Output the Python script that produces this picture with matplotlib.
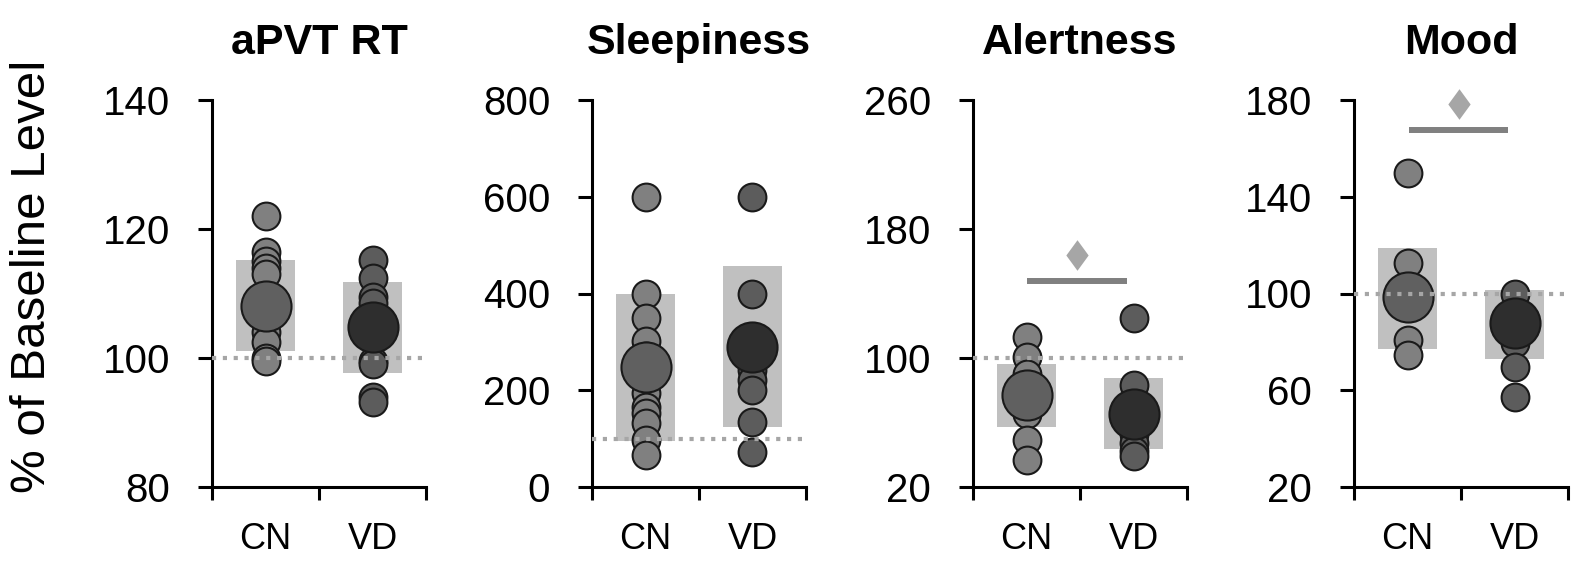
import numpy as np
import matplotlib
matplotlib.use('Agg')
import matplotlib.pyplot as plt

plt.rcParams['font.family'] = ['Liberation Sans', 'DejaVu Sans']

# ------------------------------------------------------
#  Data (% of baseline level)
# ------------------------------------------------------
titles = ['aPVT RT', 'Sleepiness', 'Alertness', 'Mood']
groups = ['CN', 'VD']

ylims = [(80, 140), (0, 800), (20, 260), (20, 180)]
yticks = [[80, 100, 120, 140], [0, 200, 400, 600, 800],
          [20, 100, 180, 260], [20, 60, 100, 140, 180]]
baseline = [100, 100, 100, 100]

# individual subjects
cn_points = [[122, 116.5, 115, 114, 113, 104, 102.5, 100, 99.5],
             [600, 400, 350, 302, 270, 195, 166, 152, 132, 97, 66],
             [113, 100.6, 90, 65.5, 49, 36.5],
             [150, 112.5, 80.6, 74.4]]
vd_points = [[115.2, 112.4, 109.5, 108.5, 99.5, 99, 94, 93.2],
             [600, 400, 241, 221, 200, 134, 72],
             [125, 83, 53, 47, 42.5, 39.5],
             [100, 79.4, 69.5, 57.2]]

# group means and shaded range (low, high)
cn_mean = [108, 248, 77, 98.5]
vd_mean = [104.8, 289, 65.5, 87.6]
cn_range = [(101.1, 115.2), (95, 398), (57, 96), (77, 119)]
vd_range = [(97.7, 111.8), (124, 456), (43.5, 87.5), (73, 101.6)]

# significance bar (x0, x1, y) and diamond (x, y), None if no mark
sig_bar = [None, None, (0.5, 1.44, 147.5), (0.51, 1.44, 167.6)]
sig_mark = [None, None, (0.97, 164), (0.98, 178.3)]

# ------------------------------------------------------
#  Plot
# ------------------------------------------------------
fig = plt.figure(figsize=(15.83, 5.61), dpi=100)

W, H = 1583.0, 561.0
lefts = [212, 592, 973, 1354]
ax_w = 214
ax_top, ax_bot = 100, 487

cn_small, cn_big = '#808080', '#606060'
vd_small, vd_big = '#5c5c5c', '#2e2e2e'
box_col = '#c0c0c0'
diamond = [(0, 1), (0.73, 0), (0, -1), (-0.73, 0), (0, 1)]

for i in range(4):
    ax = fig.add_axes([lefts[i] / W, 1 - ax_bot / H, ax_w / W, (ax_bot - ax_top) / H])
    xs = [0.5, 1.5]

    # shaded ranges
    for x, (lo, hi) in zip(xs, [cn_range[i], vd_range[i]]):
        ax.bar(x, hi - lo, bottom=lo, width=0.55, color=box_col, zorder=1)

    # individual points
    ax.scatter(np.full(len(cn_points[i]), xs[0]), cn_points[i], s=400,
               color=cn_small, edgecolor='#1a1a1a', linewidth=1.5, zorder=2, clip_on=False)
    ax.scatter(np.full(len(vd_points[i]), xs[1]), vd_points[i], s=400,
               color=vd_small, edgecolor='#1a1a1a', linewidth=1.5, zorder=2, clip_on=False)
    # means
    ax.scatter([xs[0]], [cn_mean[i]], s=1300, color=cn_big, edgecolor='#1a1a1a',
               linewidth=1.5, zorder=3)
    ax.scatter([xs[1]], [vd_mean[i]], s=1300, color=vd_big, edgecolor='#1a1a1a',
               linewidth=1.5, zorder=3)

    # baseline
    ax.axhline(baseline[i], color='#a6a6a6', linewidth=3.0,
               linestyle=(0, (1, 1.6)), dash_capstyle='butt', zorder=4)

    if sig_bar[i] is not None:
        x0, x1, yb = sig_bar[i]
        ax.plot([x0, x1], [yb, yb], color='#808080', linewidth=4.3,
                solid_capstyle='butt', zorder=4, clip_on=False)
        xm, ym = sig_mark[i]
        ax.plot([xm], [ym], marker=diamond, markersize=22, color='#a6a6a6',
                markeredgewidth=0, zorder=4, clip_on=False)

    ax.set_xlim(0, 2)
    ax.set_ylim(*ylims[i])
    ax.set_yticks(yticks[i])
    ax.set_xticks([0, 1, 2])
    ax.set_xticklabels([])
    ax.set_xticks(xs, minor=True)
    ax.set_xticklabels(groups, minor=True)
    ax.tick_params(axis='y', which='major', length=10, width=2.2, pad=20, labelsize=29)
    ax.tick_params(axis='x', which='major', length=9, width=2.2)
    ax.tick_params(axis='x', which='minor', length=0, pad=25, labelsize=26)

    for side in ['top', 'right']:
        ax.spines[side].set_visible(False)
    for side in ['left', 'bottom']:
        ax.spines[side].set_linewidth(2.2)

    ax.set_title(titles[i], fontsize=31, fontweight='bold', pad=33)

fig.text(33 / W, 0.508, '% of Baseline Level', rotation=90, fontsize=35.5,
         ha='center', va='center')

plt.savefig('out.png', dpi=100)
